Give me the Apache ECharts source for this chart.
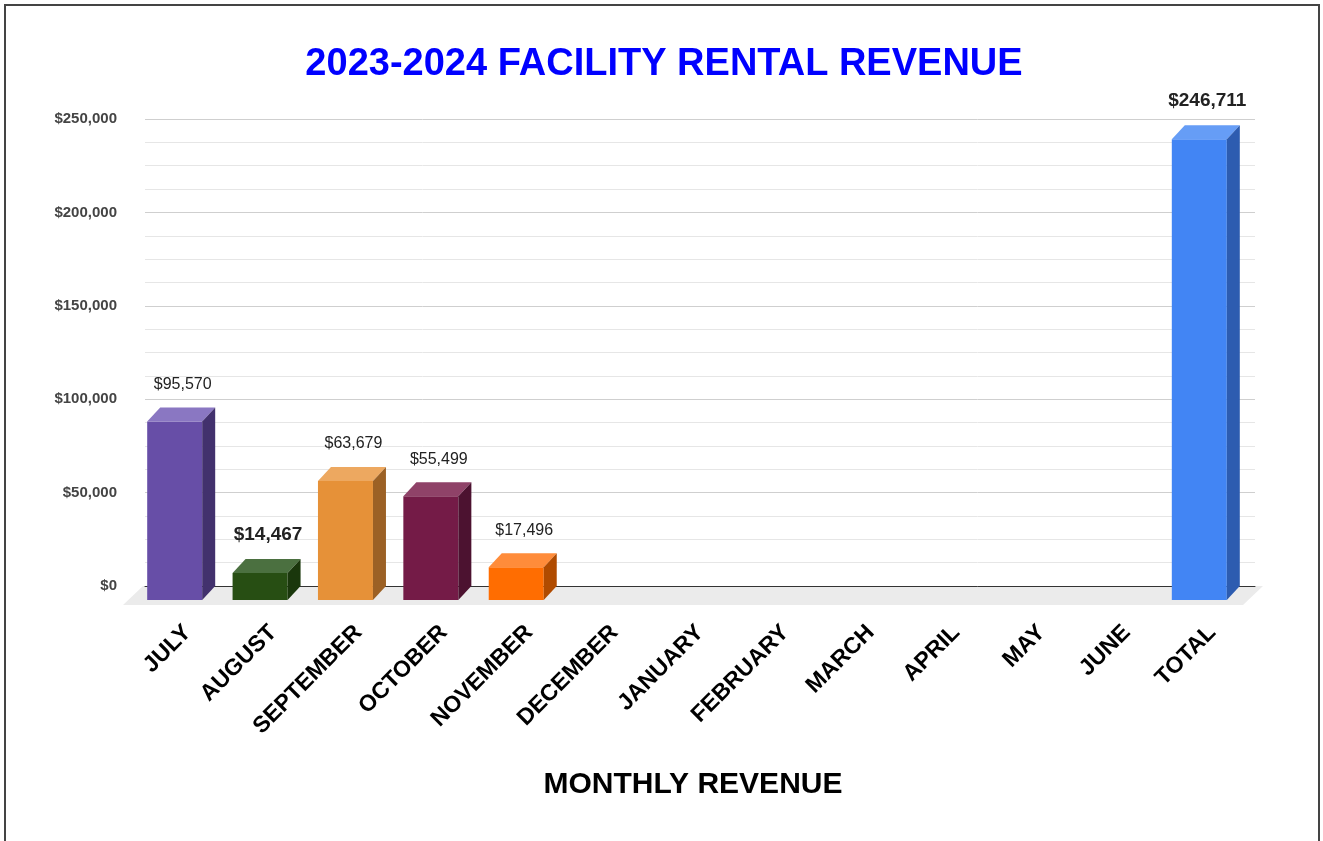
<!DOCTYPE html>
<html>
<head>
<meta charset="utf-8">
<title>2023-2024 Facility Rental Revenue</title>
<script src="https://cdn.jsdelivr.net/npm/echarts@6/dist/echarts.min.js"></script>
<style>
  html, body { margin: 0; padding: 0; background: #fff; }
  #main { width: 1323px; height: 841px; }
</style>
</head>
<body>
<div id="main"></div>
<script>
// data
var months = ['JULY', 'AUGUST', 'SEPTEMBER', 'OCTOBER', 'NOVEMBER', 'DECEMBER',
  'JANUARY', 'FEBRUARY', 'MARCH', 'APRIL', 'MAY', 'JUNE', 'TOTAL'];
var revenue = [95570, 14467, 63679, 55499, 17496, null, null, null, null, null, null, null, 246711];
var yTicks = [0, 50000, 100000, 150000, 200000, 250000];

// bar colours: front, top, side
var barColors = [
  ['#674ea7', '#8a77c2', '#42316d'],
  ['#274e13', '#4b7040', '#1a370c'],
  ['#e69138', '#eda860', '#9c6125'],
  ['#741b47', '#8f4268', '#4c1230'],
  ['#ff6d01', '#ff8c3a', '#b04b00'],
  ['#999', '#bbb', '#666'], ['#999', '#bbb', '#666'], ['#999', '#bbb', '#666'],
  ['#999', '#bbb', '#666'], ['#999', '#bbb', '#666'], ['#999', '#bbb', '#666'],
  ['#999', '#bbb', '#666'],
  ['#4285f4', '#669df6', '#2d5cb0']
];
var labelSizes = [16, 19, 16, 16, 16, 16, 16, 16, 16, 16, 16, 16, 19];
var labelBold = [false, true, false, false, false, false, false, false, false, false, false, false, true];

var depthX = 13, depthY = 14, barW = 55;

function fmt(v) {
  return '$' + v.toString().replace(/\B(?=(\d{3})+(?!\d))/g, ',');
}

var chartDom = document.getElementById('main');
var myChart = echarts.init(chartDom);
var option = {
  animation: false,
  title: {
    text: '2023-2024 FACILITY RENTAL REVENUE',
    left: 659,
    textAlign: 'center',
    top: 41,
    textStyle: {
      color: '#0000ff',
      fontSize: 38,
      fontWeight: 'bold',
      fontFamily: 'Liberation Sans, Arial, sans-serif'
    }
  },
  graphic: [{
    type: 'rect',
    shape: { x: 5, y: 5, width: 1314, height: 900 },
    style: { fill: 'none', stroke: '#444', lineWidth: 2 },
    silent: true
  }],
  grid: {
    left: 145,
    right: 68,
    top: 119,
    bottom: 255
  },
  xAxis: {
    type: 'category',
    data: months,
    name: 'MONTHLY REVENUE',
    nameLocation: 'middle',
    nameGap: 184,
    nameTextStyle: {
      color: '#000',
      fontSize: 30,
      fontWeight: 'bold',
      fontFamily: 'Liberation Sans, Arial, sans-serif',
      verticalAlign: 'top',
      padding: [0, 14, 0, 0]
    },
    axisTick: { show: false },
    axisLine: { lineStyle: { color: '#333', width: 1 } },
    axisLabel: {
      rotate: 45,
      margin: 43,
      interval: 0,
      color: '#000',
      fontSize: 23,
      fontWeight: 'bold',
      fontFamily: 'Liberation Sans, Arial, sans-serif'
    }
  },
  yAxis: {
    type: 'value',
    min: yTicks[0],
    max: yTicks[yTicks.length - 1],
    interval: 50000,
    axisLine: { show: false },
    axisTick: { show: false },
    axisLabel: {
      margin: 28,
      color: '#444',
      fontSize: 15,
      fontWeight: 'bold',
      fontFamily: 'Liberation Sans, Arial, sans-serif',
      formatter: function (v) { return fmt(v); }
    },
    splitLine: { lineStyle: { color: '#cfcfcf', width: 1 } },
    minorTick: { show: false, splitNumber: 4 },
    minorSplitLine: { show: true, lineStyle: { color: '#e6e6e6', width: 1 } }
  },
  series: [
    {
      // floor under the plot
      type: 'custom',
      z: -1,
      silent: true,
      data: [[0, 0]],
      renderItem: function (params, api) {
        var cs = params.coordSys;
        var yb = cs.y + cs.height;
        return {
          type: 'polygon',
          shape: {
            points: [[cs.x - 2, yb], [cs.x + cs.width + 8, yb],
              [cs.x + cs.width - 12, yb + 19], [cs.x - 22, yb + 19]]
          },
          style: { fill: '#ebebeb' }
        };
      }
    },
    {
      type: 'custom',
      name: 'Revenue',
      data: revenue.map(function (v, i) { return [i, v]; }),
      renderItem: function (params, api) {
        var v = api.value(1);
        if (v == null || isNaN(v)) return;
        var i = api.value(0);
        var base = api.coord([i, 0]);
        var top = api.coord([i, v]);
        var c = barColors[i];
        var x0 = base[0] - barW / 2 - depthX;   // front face left
        var ft = top[1] + depthY;               // front face top
        var fb = base[1] + depthY;              // front face bottom
        return {
          type: 'group',
          children: [
            {
              type: 'rect',
              shape: { x: x0, y: ft, width: barW, height: fb - ft },
              style: { fill: c[0] }
            },
            {
              type: 'polygon',
              shape: { points: [[x0, ft], [x0 + barW, ft], [x0 + barW + depthX, top[1]], [x0 + depthX, top[1]]] },
              style: { fill: c[1] }
            },
            {
              type: 'polygon',
              shape: { points: [[x0 + barW, ft], [x0 + barW + depthX, top[1]], [x0 + barW + depthX, base[1]], [x0 + barW, fb]] },
              style: { fill: c[2] }
            },
            {
              type: 'text',
              x: x0 + barW / 2 + 8,
              y: top[1] - 15,
              style: {
                text: fmt(v),
                fill: '#222',
                font: (labelBold[i] ? 'bold ' : '') + labelSizes[i] + 'px "Liberation Sans", Arial, sans-serif',
                align: 'center',
                verticalAlign: 'bottom'
              }
            }
          ]
        };
      }
    }
  ]
};
myChart.setOption(option);
</script>
</body>
</html>
